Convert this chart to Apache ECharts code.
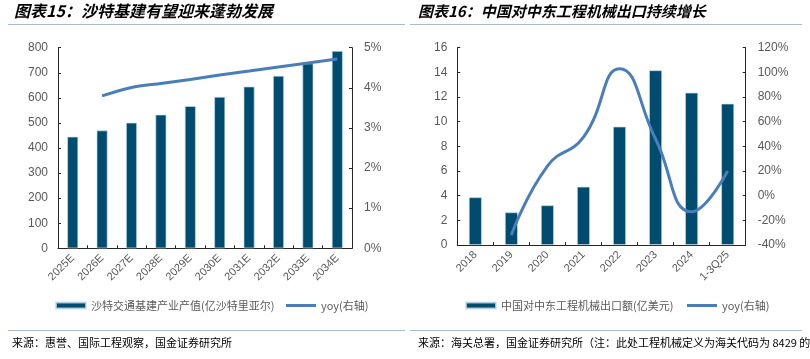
<!DOCTYPE html>
<html><head><meta charset="utf-8">
<script src="https://cdn.jsdelivr.net/npm/echarts@6/dist/echarts.min.js"></script>
<style>html,body{margin:0;padding:0;background:#fff}#c{width:810px;height:359px}</style>
</head><body><div id="c"></div>
<script>
// Left chart data
const leftCategories = ['2025E','2026E','2027E','2028E','2029E','2030E','2031E','2032E','2033E','2034E'];
const leftBarValues = [445, 470, 501, 533, 567, 604, 645, 688, 737, 787];
const leftYoy = [null, 3.8, 4.01, 4.11, 4.21, 4.32, 4.42, 4.52, 4.62, 4.72];
const leftBarName = '沙特交通基建产业产值(亿沙特里亚尔)';
const leftLineName = 'yoy(右轴)';
// Right chart data
const rightCategories = ['2018','2019','2020','2021','2022','2023','2024','1-3Q25'];
const rightBarValues = [3.87, 2.65, 3.22, 4.73, 9.6, 14.17, 12.35, 11.46];
const rightYoy = [null, -31.9, 24, 47.5, 103, 46, -13, 20];
const rightBarName = '中国对中东工程机械出口额(亿美元)';
const rightLineName = 'yoy(右轴) ';
// Tick settings
const leftYTicks = {min: 0, max: 800, interval: 100};
const leftY2Ticks = {min: 0, max: 5, interval: 1};
const rightYTicks = {min: 0, max: 16, interval: 2};
const rightY2Ticks = {min: -40, max: 120, interval: 20};

const BAR = '#004B70', LINE = '#4A7EBB', LBL = '#595959', AX = '#262626';
const font = 'Liberation Sans, Arial, sans-serif';
const cjk = '"Noto Sans CJK SC", sans-serif';

function yAxis(idx, t, pct, pos) {
  return {type: 'value', gridIndex: idx, position: pos, min: t.min, max: t.max, interval: t.interval,
    splitLine: {show: false},
    axisLine: {show: true, lineStyle: {color: AX, width: 1}},
    axisTick: {show: true, inside: true, length: 3, lineStyle: {color: AX}},
    axisLabel: {color: LBL, fontSize: 12, fontFamily: font, margin: pos === 'left' ? 10 : 12,
      formatter: pct ? '{value}%' : '{value}'}};
}
function xAxis(idx, cats) {
  return {type: 'category', gridIndex: idx, data: cats, boundaryGap: true,
    axisLine: {show: true, lineStyle: {color: AX, width: 1}},
    axisTick: {show: true, inside: true, length: 3, lineStyle: {color: AX}},
    axisLabel: {color: LBL, fontSize: 11, fontFamily: font, rotate: 45, margin: 8, interval: 0}};
}
const legendText = {color: LBL, fontSize: 11, fontFamily: cjk};

const chart = echarts.init(document.getElementById('c'));
chart.setOption({
  animation: false,
  grid: [
    {left: 58, right: 458, top: 47.7, bottom: 110.7},
    {left: 457.3, right: 64.3, top: 47.7, bottom: 114}
  ],
  xAxis: [xAxis(0, leftCategories), xAxis(1, rightCategories)],
  yAxis: [yAxis(0, leftYTicks, false, 'left'), yAxis(0, leftY2Ticks, true, 'right'),
          yAxis(1, rightYTicks, false, 'left'), yAxis(1, rightY2Ticks, true, 'right')],
  legend: [
    {left: 50, top: 295, itemWidth: 30, itemHeight: 6, data: [{name: leftBarName, icon: 'rect'}], textStyle: legendText},
    {left: 281, top: 295, itemWidth: 30, itemHeight: 3, data: [{name: leftLineName, icon: 'rect'}], textStyle: legendText},
    {left: 460, top: 295, itemWidth: 30, itemHeight: 6, data: [{name: rightBarName, icon: 'rect'}], textStyle: legendText},
    {left: 682, top: 295, itemWidth: 30, itemHeight: 3, data: [{name: rightLineName, icon: 'rect'}], textStyle: legendText}
  ],
  series: [
    {name: leftBarName, type: 'bar', xAxisIndex: 0, yAxisIndex: 0, data: leftBarValues, barWidth: 11,
      itemStyle: {color: BAR, borderColor: 'rgba(200,220,235,0.8)', borderWidth: 0.8}},
    {name: leftLineName, type: 'line', xAxisIndex: 0, yAxisIndex: 1, data: leftYoy, smooth: 0.3,
      showSymbol: false, symbol: 'none', lineStyle: {color: LINE, width: 3}, itemStyle: {color: LINE}},
    {name: rightBarName, type: 'bar', xAxisIndex: 1, yAxisIndex: 2, data: rightBarValues, barWidth: 13,
      itemStyle: {color: BAR, borderColor: 'rgba(200,220,235,0.8)', borderWidth: 0.8}},
    {name: rightLineName, type: 'line', xAxisIndex: 1, yAxisIndex: 3, data: rightYoy, smooth: 0.5,
      showSymbol: false, symbol: 'none', lineStyle: {color: LINE, width: 3}, itemStyle: {color: LINE}}
  ],
  graphic: [
    {type: 'text', left: 14, top: 3, style: {text: '图表15：沙特基建有望迎来蓬勃发展', fill: '#000',
      font: 'italic bold 16px "Noto Sans CJK SC", sans-serif'}},
    {type: 'text', left: 418, top: 4, style: {text: '图表16：中国对中东工程机械出口持续增长', fill: '#000',
      font: 'italic bold 15px "Noto Sans CJK SC", sans-serif'}},
    {type: 'line', shape: {x1: 8, y1: 24.5, x2: 405, y2: 24.5}, style: {stroke: '#A9BCCF', lineWidth: 1}},
    {type: 'line', shape: {x1: 410, y1: 24.5, x2: 802, y2: 24.5}, style: {stroke: '#A9BCCF', lineWidth: 1}},
    {type: 'line', shape: {x1: 8, y1: 330.5, x2: 405, y2: 330.5}, style: {stroke: '#A9BCCF', lineWidth: 1}},
    {type: 'line', shape: {x1: 410, y1: 330.5, x2: 802, y2: 330.5}, style: {stroke: '#A9BCCF', lineWidth: 1}},
    {type: 'text', left: 12, top: 337, style: {text: '来源：惠誉、国际工程观察，国金证券研究所', fill: '#000',
      font: '11px "Noto Sans CJK SC", sans-serif'}},
    {type: 'text', left: 418, top: 337, style: {text: '来源：海关总署，国金证券研究所（注：此处工程机械定义为海关代码为 8429 的', fill: '#000',
      font: '11px "Noto Sans CJK SC", sans-serif'}}
  ]
});
</script></body></html>
